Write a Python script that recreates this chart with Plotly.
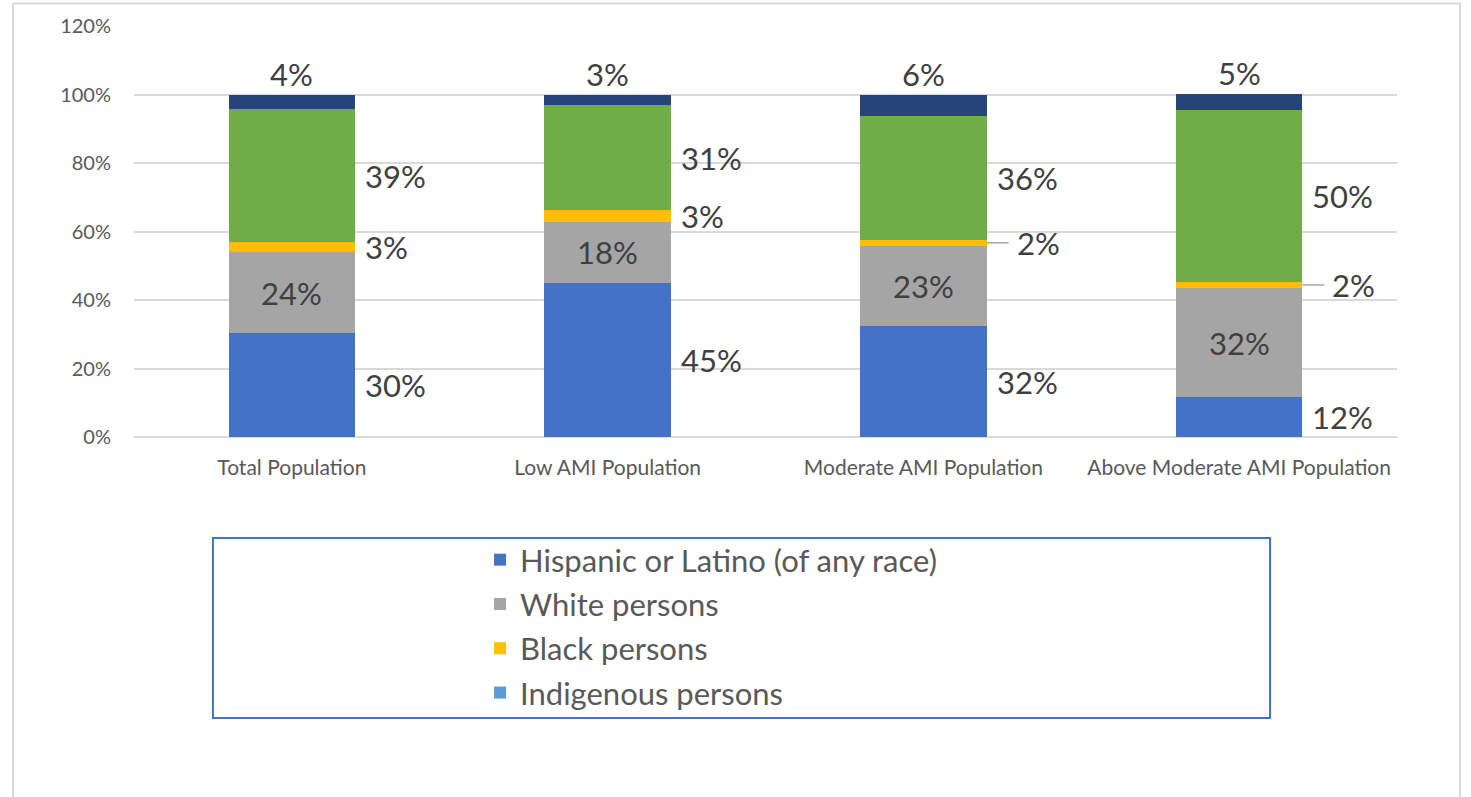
import plotly.graph_objects as go

categories = ["Total Population", "Low AMI Population", "Moderate AMI Population", "Above Moderate AMI Population"]
hispanic = [30.3, 44.9, 32.4, 11.6]
white = [23.7, 18.0, 23.4, 31.9]
black = [2.8, 3.3, 1.8, 1.8]
indigenous = [0.0, 0.0, 0.0, 0.0]
asian = [39.0, 30.8, 36.0, 50.1]
other = [4.2, 2.9, 6.4, 4.7]

series = [
    ("Hispanic or Latino (of any race)", hispanic, "#4472C4", True, "right"),
    ("White persons", white, "#A5A5A5", True, "inside"),
    ("Black persons", black, "#FFC000", True, "right"),
    ("Indigenous persons", indigenous, "#5B9BD5", True, None),
    ("Asian persons", asian, "#70AD47", False, "right"),
    ("Other persons", other, "#264478", False, "top"),
]

FONT = "Lato"
LBL = dict(family=FONT, size=31, color="#404040")

fig = go.Figure()
for i, (name, vals, color, show, _) in enumerate(series):
    fig.add_trace(go.Bar(
        x=list(range(len(categories))), y=vals, name=name,
        marker=dict(color=color, line=dict(width=0)),
        showlegend=show, legendgroup=f"g{i}", width=0.4,
        hoverinfo="skip",
    ))

annotations = []
shapes = []
half = 0.2
base = [0.0] * len(categories)
for name, vals, color, show, pos in series:
    for i, v in enumerate(vals):
        center = base[i] + v / 2
        top = base[i] + v
        if pos == "inside":
            annotations.append(dict(x=i, y=center, text=f"{round(v)}%", showarrow=False,
                                    font=LBL, xanchor="center", yanchor="middle"))
        elif pos == "right":
            if v < 2.5:
                shapes.append(dict(type="line", xref="x", yref="y", x0=i + half, x1=i + half + 0.07,
                                   y0=center, y1=center, line=dict(color="#A6A6A6", width=1.5)))
                annotations.append(dict(x=i + half, y=center, text=f"{round(v)}%", showarrow=False,
                                        font=LBL, xanchor="left", yanchor="middle", xshift=28))
            else:
                annotations.append(dict(x=i + half, y=center, text=f"{round(v)}%", showarrow=False,
                                        font=LBL, xanchor="left", yanchor="middle", xshift=8))
        elif pos == "top":
            annotations.append(dict(x=i, y=top, text=f"{round(v)}%", showarrow=False,
                                    font=LBL, xanchor="center", yanchor="bottom", yshift=0))
        base[i] = top

# outer chart frame
shapes.append(dict(type="rect", xref="paper", yref="paper", x0=-0.0958, x1=1.0499, y0=-0.95, y1=1.0547,
                   line=dict(color="#D9D9D9", width=2), layer="below"))
# legend frame
shapes.append(dict(type="rect", xref="paper", yref="paper", x0=0.0625, x1=0.8995, y0=-0.6837, y1=-0.2457,
                   line=dict(color="#4472C4", width=2)))

fig.update_layout(
    width=1471, height=797,
    margin=dict(l=134, r=74, t=26, b=360),
    paper_bgcolor="white", plot_bgcolor="white",
    barmode="stack",
    font=dict(family=FONT, color="#595959"),
    xaxis=dict(tickmode="array", tickvals=list(range(len(categories))), ticktext=categories,
               range=[-0.5, 3.5], showgrid=False, showline=False, zeroline=False,
               ticks="outside", ticklen=12, tickcolor="rgba(0,0,0,0)",
               tickfont=dict(family=FONT, size=21, color="#595959")),
    yaxis=dict(range=[0, 120], dtick=20, ticksuffix="%", showgrid=True, gridcolor="#D9D9D9", gridwidth=1.5,
               zeroline=True, zerolinecolor="#D9D9D9", zerolinewidth=1.5, showline=False,
               ticks="outside", ticklen=18, tickcolor="rgba(0,0,0,0)",
               tickfont=dict(family=FONT, size=20, color="#595959")),
    showlegend=True,
    legend=dict(x=0.274, y=-0.2336, xanchor="left", yanchor="top", orientation="v",
                traceorder="grouped", tracegroupgap=1,
                font=dict(family=FONT, size=31, color="#595959"),
                bgcolor="rgba(0,0,0,0)"),
    annotations=annotations,
    shapes=shapes,
)

fig.write_html("out.html")
